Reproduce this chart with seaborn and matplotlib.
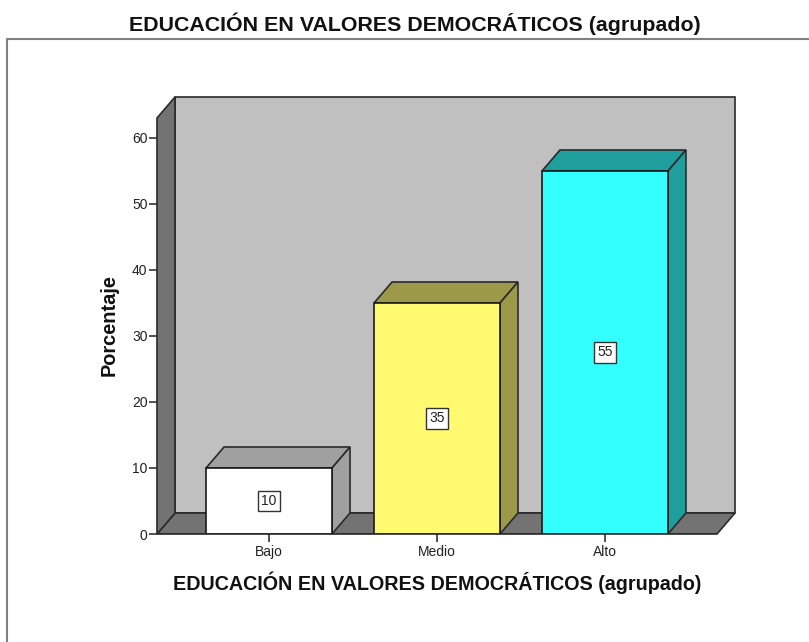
import numpy as np
import pandas as pd
import matplotlib
matplotlib.use('Agg')
import matplotlib.pyplot as plt
from matplotlib.lines import Line2D
from matplotlib.patches import Polygon
import seaborn as sns

# values
categories = ['Bajo', 'Medio', 'Alto']
percent = [10, 35, 55]
y_ticks = [0, 10, 20, 30, 40, 50, 60]
front_colors = ['#FFFFFF', '#FFFA70', '#33FFFF']
side_colors = ['#A0A0A0', '#9C9A4A', '#1F9E9E']
title = 'EDUCACIÓN EN VALORES DEMOCRÁTICOS (agrupado)'

W, H = 809, 642
sns.set_theme(style='white')
plt.rcParams['font.family'] = ['Liberation Sans', 'DejaVu Sans']

df = pd.DataFrame({'cat': categories, 'pct': percent})

fig = plt.figure(figsize=(W / 100, H / 100), dpi=100)
# front plane of the box, in pixels: x 157-717, y 118-534
ax = fig.add_axes([157 / W, 1 - 534 / H, 560 / W, 416 / H])

sns.barplot(data=df, x='cat', y='pct', hue='cat', palette=front_colors, legend=False,
            width=0.75, saturation=1, edgecolor='#1a1a1a', linewidth=1.2, ax=ax, zorder=2)

x0, x1 = -0.667, 2.667
ymax = 63.03
ax.set_xlim(x0, x1)
ax.set_ylim(0, ymax)

# depth of the fake 3D, in data units
dx = 18 / 168
dy = 21 / 6.6

line = dict(edgecolor='#2a2a2a', linewidth=1.2, clip_on=False)
# walls
ax.add_patch(Polygon([(x0 + dx, dy), (x1 + dx, dy), (x1 + dx, ymax + dy), (x0 + dx, ymax + dy)],
                     facecolor='#C0C0C0', zorder=0.5, **line))
ax.add_patch(Polygon([(x0, 0), (x0 + dx, dy), (x1 + dx, dy), (x1, 0)],
                     facecolor='#737373', zorder=0.6, **line))
ax.add_patch(Polygon([(x0, 0), (x0 + dx, dy), (x0 + dx, ymax + dy), (x0, ymax)],
                     facecolor='#737373', zorder=0.6, **line))

# top and side of each bar
bars = [b for k in ax.containers for b in k.patches]
for bar, c in zip(bars, side_colors):
    l, r, h = bar.get_x(), bar.get_x() + bar.get_width(), bar.get_height()
    ax.add_patch(Polygon([(l, h), (l + dx, h + dy), (r + dx, h + dy), (r, h)],
                         facecolor=c, zorder=1.5, **line))
    ax.add_patch(Polygon([(r, 0), (r + dx, dy), (r + dx, h + dy), (r, h)],
                         facecolor=c, zorder=1.5, **line))

for cont in ax.containers:
    ax.bar_label(cont, label_type='center', fontsize=10, color='#222222',
                 bbox=dict(boxstyle='square,pad=0.25', facecolor='white', edgecolor='#333333', linewidth=1))

ax.set_yticks(y_ticks)
ax.set_xticks(range(len(categories)))
ax.set_xticklabels(categories)
ax.tick_params(axis='both', left=True, bottom=True, length=5.8, width=1.2, color='#333333',
               labelsize=10, labelcolor='#222222', pad=1)
ax.tick_params(axis='x', pad=2)
sns.despine(ax=ax, left=True, top=True, right=True, bottom=True)
ax.set_xlabel('')
ax.set_ylabel('')

ax.axhline(0, color='#2a2a2a', linewidth=1.2, zorder=3)

fig.text(437 / W, 1 - 583 / H, title, ha='center', va='center',
         fontsize=14.2, fontweight='bold', color='#111111')
fig.text(415 / W, 1 - 24 / H, title, ha='center', va='center',
         fontsize=15.4, fontweight='bold', color='#111111')
fig.text(109 / W, 1 - 325 / H, 'Porcentaje', rotation=90, ha='center', va='center',
         fontsize=14.4, fontweight='bold', color='#111111')

# outer chart frame
fig.add_artist(Line2D([7 / W, 7 / W, 1], [0, 1 - 39 / H, 1 - 39 / H], color='#808080', linewidth=1.5))

plt.savefig('out.png', dpi=100)
